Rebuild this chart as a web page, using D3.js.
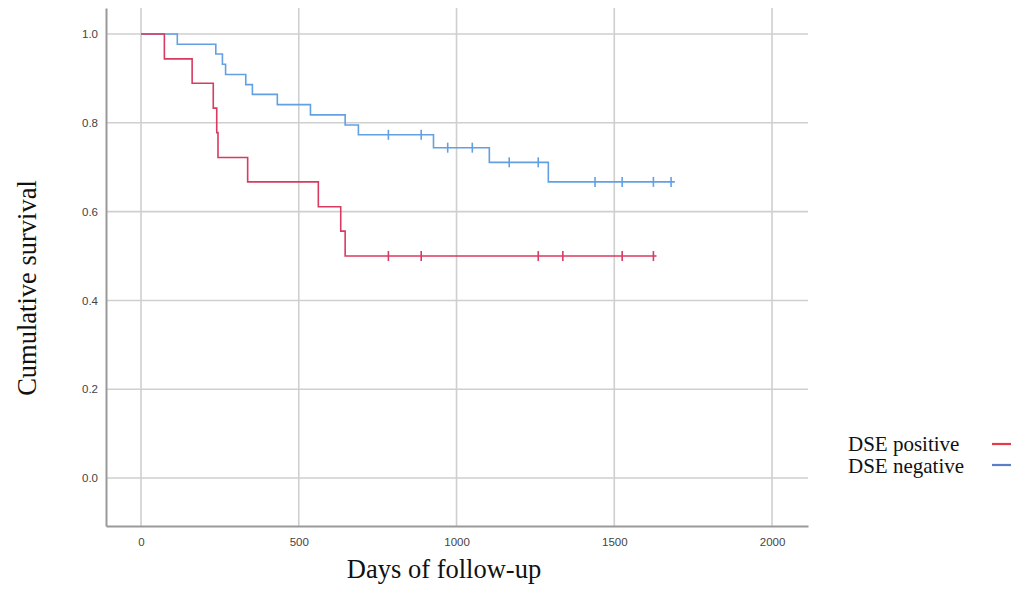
<!DOCTYPE html>
<html><head><meta charset="utf-8">
<script src="https://cdn.jsdelivr.net/npm/d3@7"></script>
<style>
body{margin:0;background:#fff;}
svg{display:block;}
</style></head>
<body>
<svg id="chart" width="1016" height="591"></svg>
<script>
// Data
const seriesNames = ["DSE positive", "DSE negative"];
const posEventDays = [74, 162, 229, 240, 244, 338, 562, 633, 647];
const posSurvival  = [0.944, 0.889, 0.833, 0.778, 0.722, 0.667, 0.611, 0.556, 0.5];
const posCensorDays = [784, 888, 1259, 1337, 1525, 1624];
const posEndDay = 1634;
const negEventDays = [115, 237, 258, 268, 332, 353, 432, 537, 647, 689, 927, 1104, 1291];
const negSurvival  = [0.977, 0.955, 0.932, 0.909, 0.886, 0.864, 0.841, 0.818, 0.795, 0.773, 0.744, 0.711, 0.667];
const negCensorDays = [784, 888, 972, 1050, 1167, 1259, 1439, 1525, 1624, 1680];
const negEndDay = 1692;
const xTicks = [0, 500, 1000, 1500, 2000];
const yTicks = [0.0, 0.2, 0.4, 0.6, 0.8, 1.0];

const svg = d3.select("#chart");
const x = d3.scaleLinear().domain([-111, 2114]).range([106, 808]);
const y = d3.scaleLinear().domain([-0.108, 1.0586]).range([526, 8]);

// grid
const g = svg.append("g");
g.selectAll(".hg").data(yTicks).enter().append("line")
  .attr("x1", 106).attr("x2", 808).attr("y1", d => y(d)).attr("y2", d => y(d))
  .attr("stroke", "#cfcfcf").attr("stroke-width", 1.6);
g.selectAll(".vg").data(xTicks).enter().append("line")
  .attr("y1", 8).attr("y2", 526).attr("x1", d => x(d)).attr("x2", d => x(d))
  .attr("stroke", "#cfcfcf").attr("stroke-width", 1.6);

// axes
const xAxis = d3.axisBottom(x).tickValues(xTicks).tickSize(0).tickPadding(12).tickFormat(d3.format("d"));
const yAxis = d3.axisLeft(y).tickValues(yTicks).tickSize(0).tickPadding(8).tickFormat(d3.format(".1f"));
const gx = svg.append("g").attr("transform", "translate(0,526)").call(xAxis);
const gy = svg.append("g").attr("transform", "translate(106,0)").call(yAxis);
[gx, gy].forEach(a => {
  a.select(".domain").attr("stroke", "#9a9a9a").attr("stroke-width", 2);
  a.selectAll("text").attr("font-family", "'Liberation Sans', Arial, sans-serif")
    .attr("font-size", 11.5).attr("fill", "#444");
});

function stepData(days, surv, end) {
  const pts = [[0, 1]];
  let cur = 1;
  days.forEach((d, i) => { pts.push([d, cur]); pts.push([d, surv[i]]); cur = surv[i]; });
  pts.push([end, cur]);
  return pts;
}
function survAt(days, surv, t) {
  let v = 1;
  days.forEach((d, i) => { if (d <= t) v = surv[i]; });
  return v;
}
const line = d3.line().x(d => x(d[0])).y(d => y(d[1]));

function drawSeries(days, surv, censor, end, color) {
  const gs = svg.append("g");
  gs.append("path").datum(stepData(days, surv, end)).attr("d", line)
    .attr("fill", "none").attr("stroke", color).attr("stroke-width", 1.6);
  gs.selectAll("line.c").data(censor).enter().append("line")
    .attr("x1", d => x(d)).attr("x2", d => x(d))
    .attr("y1", d => y(survAt(days, surv, d)) - 5)
    .attr("y2", d => y(survAt(days, surv, d)) + 5)
    .attr("stroke", color).attr("stroke-width", 1.6);
}
drawSeries(negEventDays, negSurvival, negCensorDays, negEndDay, "#62a0e2");
drawSeries(posEventDays, posSurvival, posCensorDays, posEndDay, "#d83a60");

// axis titles
svg.append("text").attr("x", 444).attr("y", 578).attr("text-anchor", "middle")
  .attr("font-family", "'Liberation Serif', 'Times New Roman', serif").attr("font-size", 26.5)
  .attr("fill", "#111").text("Days of follow-up");
svg.append("text").attr("transform", "translate(36,288) rotate(-90)").attr("text-anchor", "middle")
  .attr("font-family", "'Liberation Serif', 'Times New Roman', serif").attr("font-size", 26.5)
  .attr("fill", "#111").text("Cumulative survival");

// legend
const legColors = ["#e53b46", "#5a7fc8"];
const leg = svg.append("g");
seriesNames.forEach((n, i) => {
  leg.append("text").attr("x", 848).attr("y", 451 + i * 22)
    .attr("font-family", "'Liberation Serif', 'Times New Roman', serif").attr("font-size", 21)
    .attr("fill", "#111").text(n);
  leg.append("line").attr("x1", 992).attr("x2", 1011)
    .attr("y1", 444 + i * 21).attr("y2", 444 + i * 21)
    .attr("stroke", legColors[i]).attr("stroke-width", 2.2);
});
</script>
</body></html>
